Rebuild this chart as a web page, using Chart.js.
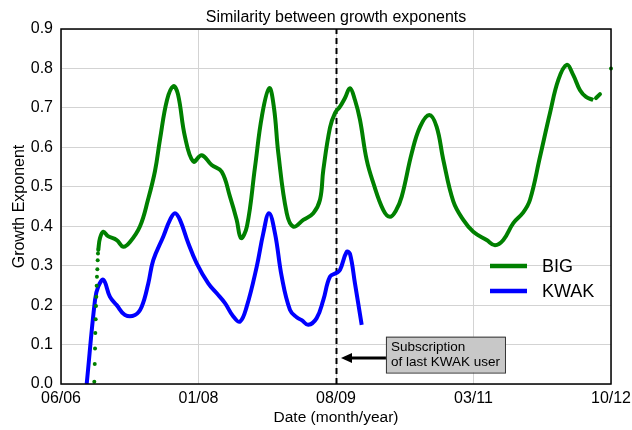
<!DOCTYPE html>
<html><head><meta charset="utf-8">
<script src="https://cdn.jsdelivr.net/npm/chart.js@4/dist/chart.umd.min.js"></script>
<style>html,body{margin:0;padding:0;background:#fff}#wrap{width:632px;height:430px}</style>
</head><body><div id="wrap"><canvas id="c" width="632" height="430"></canvas></div>
<script>
// months since 06/06
const tickMonths = [0, 19, 38, 57, 76];
const tickLabels = ['06/06', '01/08', '08/09', '03/11', '10/12'];
const yTicks = [0, 0.1, 0.2, 0.3, 0.4, 0.5, 0.6, 0.7, 0.8, 0.9];
const subscriptionMonth = 38;

const bigDotsX = [4.60,4.66,4.70,4.74,4.79,4.84,4.88,4.93,4.97,5.02,5.07,5.11,5.15];
const bigDotsY = [0.006,0.051,0.090,0.129,0.164,0.198,0.221,0.249,0.272,0.291,0.314,0.331,0.340];

const bigX = [5.15,5.39,5.85,6.49,7.70,8.61,9.53,10.92,12.02,12.99,13.68,14.65,15.52,16.16,17.13,18.28,19.44,20.82,22.21,23.35,24.28,24.87,25.70,26.81,27.77,28.78,29.43,30.03,31.19,32.10,33.48,34.86,35.79,36.25,37.17,37.86,38.55,39.24,39.93,40.62,41.31,42.24,43.15,44.54,45.46,46.29,47.08,48.46,49.61,50.89,51.91,52.83,54.21,55.59,56.97,58.82,59.97,61.12,62.50,63.88,64.81,66.19,67.57,68.72,69.88,70.79,71.72,72.55,73.55];
const bigY = [0.34,0.37,0.386,0.375,0.365,0.348,0.36,0.40,0.467,0.54,0.62,0.72,0.755,0.735,0.627,0.564,0.58,0.555,0.538,0.475,0.416,0.37,0.40,0.55,0.68,0.75,0.70,0.585,0.433,0.399,0.416,0.433,0.467,0.543,0.65,0.687,0.703,0.725,0.75,0.72,0.67,0.568,0.51,0.441,0.424,0.44,0.475,0.585,0.652,0.682,0.652,0.568,0.463,0.416,0.386,0.365,0.352,0.365,0.408,0.435,0.467,0.576,0.687,0.771,0.809,0.783,0.745,0.728,0.72];
const bigTailX = [73.93, 74.48];
const bigTailY = [0.725, 0.735];
const bigLastX = [76];
const bigLastY = [0.80];

const kwakX = [3.55,4.70,5.15,5.85,6.77,7.70,8.84,10.23,11.15,12.06,12.75,14.14,15.06,15.75,16.44,17.59,18.75,20.35,21.52,22.66,23.81,24.73,25.66,27.04,27.95,28.74,29.57,30.50,31.64,32.57,33.26,34.17,35.33,36.25,37.17,38.10,38.55,39.48,39.93,40.62,41.55];
const kwakY = [0.0,0.213,0.247,0.264,0.221,0.2,0.175,0.175,0.196,0.255,0.314,0.374,0.416,0.433,0.416,0.357,0.306,0.255,0.23,0.205,0.171,0.158,0.196,0.297,0.382,0.433,0.382,0.272,0.188,0.169,0.162,0.15,0.167,0.213,0.272,0.282,0.289,0.335,0.33,0.255,0.15];

const zip = (xs, ys) => xs.map((x, i) => ({x, y: ys[i]}));
const GREEN = '#008000', BLUE = '#0000ff';
const FONT = '"Liberation Sans", Arial, sans-serif';

const deco = {
  id: 'deco',
  beforeDatasetsDraw(chart) {
    const {ctx, chartArea: a, scales: {x}} = chart;
    ctx.save();
    const px = Math.round(x.getPixelForValue(subscriptionMonth)) + 0.5;
    ctx.strokeStyle = '#000'; ctx.lineWidth = 2; ctx.setLineDash([6, 4]);
    ctx.beginPath(); ctx.moveTo(px, a.bottom); ctx.lineTo(px, a.top); ctx.stroke();
    ctx.restore();
  },
  afterDraw(chart) {
    const {ctx, chartArea: a, scales: {x, y}} = chart;
    ctx.save();
    // frame
    ctx.strokeStyle = '#000'; ctx.lineWidth = 1.5;
    ctx.strokeRect(a.left, a.top, a.right - a.left, a.bottom - a.top);
    // title
    ctx.fillStyle = '#000'; ctx.font = '16px ' + FONT;
    ctx.textAlign = 'center'; ctx.textBaseline = 'middle';
    ctx.fillText('Similarity between growth exponents', (a.left + a.right) / 2, 18);
    // legend
    const items = [['BIG', GREEN], ['KWAK', BLUE]];
    ctx.font = '18px ' + FONT; ctx.textAlign = 'left';
    items.forEach(([t, c], i) => {
      const ly = a.top + 237 + i * 25;
      ctx.strokeStyle = c; ctx.lineWidth = 4.5;
      ctx.beginPath(); ctx.moveTo(a.right - 121, ly); ctx.lineTo(a.right - 84, ly); ctx.stroke();
      ctx.fillStyle = '#000'; ctx.fillText(t, a.right - 69, ly + 1);
    });
    // annotation
    const bx0 = x.getPixelForValue(44.9), bx1 = x.getPixelForValue(61.35);
    const by0 = y.getPixelForValue(0.12), by1 = y.getPixelForValue(0.029);
    ctx.fillStyle = '#c8c8c8'; ctx.strokeStyle = '#333'; ctx.lineWidth = 1;
    ctx.fillRect(bx0, by0, bx1 - bx0, by1 - by0);
    ctx.strokeRect(bx0 + 0.5, by0 + 0.5, bx1 - bx0, by1 - by0);
    ctx.fillStyle = '#000'; ctx.font = '13.5px ' + FONT; ctx.textBaseline = 'middle';
    ctx.fillText('Subscription', bx0 + 5, by0 + 11);
    ctx.fillText('of last KWAK user', bx0 + 5, by0 + 26);
    const ay = y.getPixelForValue(0.066);
    const tip = x.getPixelForValue(subscriptionMonth) + 5;
    ctx.strokeStyle = '#000'; ctx.lineWidth = 3;
    ctx.beginPath(); ctx.moveTo(bx0, ay); ctx.lineTo(tip + 8, ay); ctx.stroke();
    ctx.beginPath(); ctx.moveTo(tip, ay); ctx.lineTo(tip + 11, ay - 5); ctx.lineTo(tip + 11, ay + 5); ctx.closePath();
    ctx.fillStyle = '#000'; ctx.fill();
    ctx.restore();
  }
};

new Chart(document.getElementById('c'), {
  type: 'scatter',
  data: {
    datasets: [
      {data: zip(bigDotsX, bigDotsY), showLine: false, pointRadius: 2, backgroundColor: GREEN, borderColor: GREEN, borderWidth: 0},
      {data: zip(bigX, bigY), showLine: true, tension: 0.4, borderColor: GREEN, borderWidth: 4, pointRadius: 0},
      {data: zip(bigTailX, bigTailY), showLine: true, borderColor: GREEN, borderWidth: 4, borderCapStyle: 'round', pointRadius: 0},
      {data: zip(bigLastX, bigLastY), showLine: false, pointRadius: 2, backgroundColor: GREEN, borderColor: GREEN, borderWidth: 0, clip: false},
      {data: zip(kwakX, kwakY), showLine: true, tension: 0.4, borderColor: BLUE, borderWidth: 4, pointRadius: 0}
    ]
  },
  options: {
    responsive: false, animation: false, devicePixelRatio: 1,
    layout: {padding: {top: 29, right: 21, left: 0, bottom: 0}},
    plugins: {legend: {display: false}, tooltip: {enabled: false}, title: {display: false}},
    scales: {
      x: {
        type: 'linear', min: 0, max: 76,
        afterBuildTicks: s => { s.ticks = tickMonths.map(v => ({value: v})); },
        afterFit: s => { s.height = 46; s.paddingLeft = 0; s.paddingRight = 0; },
        ticks: {color: '#000', font: {family: FONT, size: 16}, padding: 5, maxRotation: 0,
          callback: (v) => tickLabels[tickMonths.indexOf(v)]},
        grid: {color: '#d3d3d3', lineWidth: 1, drawTicks: false},
        border: {display: false},
        title: {display: true, text: 'Date (month/year)', color: '#000', font: {family: FONT, size: 15.5}, padding: {top: 0, bottom: 3}}
      },
      y: {
        min: 0, max: 0.9,
        afterBuildTicks: s => { s.ticks = yTicks.map(v => ({value: v})); },
        afterFit: s => { s.width = 61; s.paddingTop = 0; s.paddingBottom = 0; },
        ticks: {color: '#000', font: {family: FONT, size: 16}, padding: 8, callback: v => v.toFixed(1)},
        grid: {color: '#d3d3d3', lineWidth: 1, drawTicks: false},
        border: {display: false},
        title: {display: true, text: 'Growth Exponent', color: '#000', font: {family: FONT, size: 16}, padding: {top: 10, bottom: 0}}
      }
    }
  },
  plugins: [deco]
});
</script></body></html>
